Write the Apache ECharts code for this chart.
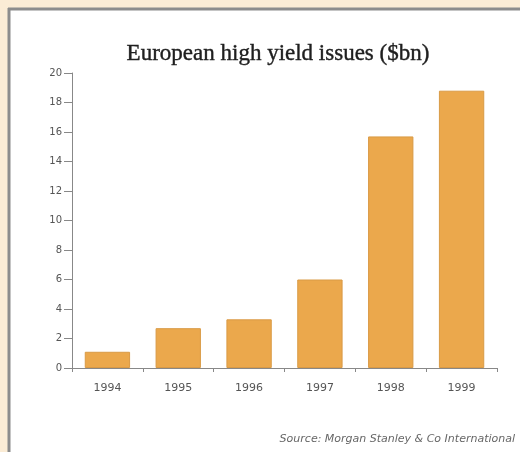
<!DOCTYPE html>
<html>
<head>
<meta charset="utf-8">
<script src="https://cdn.jsdelivr.net/npm/echarts@6/dist/echarts.min.js"></script>
<style>
html,body{margin:0;padding:0;background:#fbecd5;}
#chart{width:520px;height:452px;}
</style>
</head>
<body>
<div id="chart"></div>
<script>
var years=['1994','1995','1996','1997','1998','1999'];
var issues=[1.1,2.7,3.3,6.0,15.7,18.8];
var yTicks={min:0,max:20,step:2};

var chart=echarts.init(document.getElementById('chart'));
var option={
	backgroundColor:'#fbecd5',
	animation:false,
	title:{
		text:'European high yield issues ($bn)',
		left:273,
		top:37,
		textAlign:'center',
		textStyle:{
			fontFamily:'Liberation Serif',
			fontSize:23,
			fontWeight:'normal',
			color:'#1e1e1e',
			textBorderColor:'#1e1e1e',
			textBorderWidth:0.4
		}
	},
	graphic:[
		{type:'rect',z:-10,shape:{x:8,y:8,width:512,height:444},style:{fill:'#ffffff'}},
		{type:'line',z:-9,shape:{x1:9,y1:8,x2:9,y2:452},style:{stroke:'#8c8c8c',lineWidth:3}},
		{type:'line',z:-9,shape:{x1:8,y1:9,x2:520,y2:9},style:{stroke:'#8c8c8c',lineWidth:3}},
		{type:'text',right:5,top:434,style:{
			text:'Source: Morgan Stanley & Co International',
			font:'italic 11px "DejaVu Sans"',
			fill:'#666'
		}}
	],
	grid:{left:72,top:73,right:23,bottom:84},
	xAxis:{
		type:'category',
		data:years,
		axisLine:{lineStyle:{color:'#888',width:1}},
		axisTick:{show:true,length:4,lineStyle:{color:'#888'}},
		axisLabel:{color:'#555',fontSize:11,fontFamily:'DejaVu Sans',margin:15}
	},
	yAxis:{
		type:'value',
		min:yTicks.min,
		max:yTicks.max,
		interval:yTicks.step,
		axisLine:{show:true,lineStyle:{color:'#888',width:1}},
		axisTick:{show:true,length:8,lineStyle:{color:'#888'}},
		splitLine:{show:false},
		axisLabel:{color:'#555',fontSize:10,fontFamily:'DejaVu Sans',margin:10}
	},
	series:[{
		name:'issues',
		type:'bar',
		barWidth:'64%',
		data:issues,
		itemStyle:{color:'#eba84c',borderColor:'#d99a45',borderWidth:1}
	}]
};
chart.setOption(option);
</script>
</body>
</html>
